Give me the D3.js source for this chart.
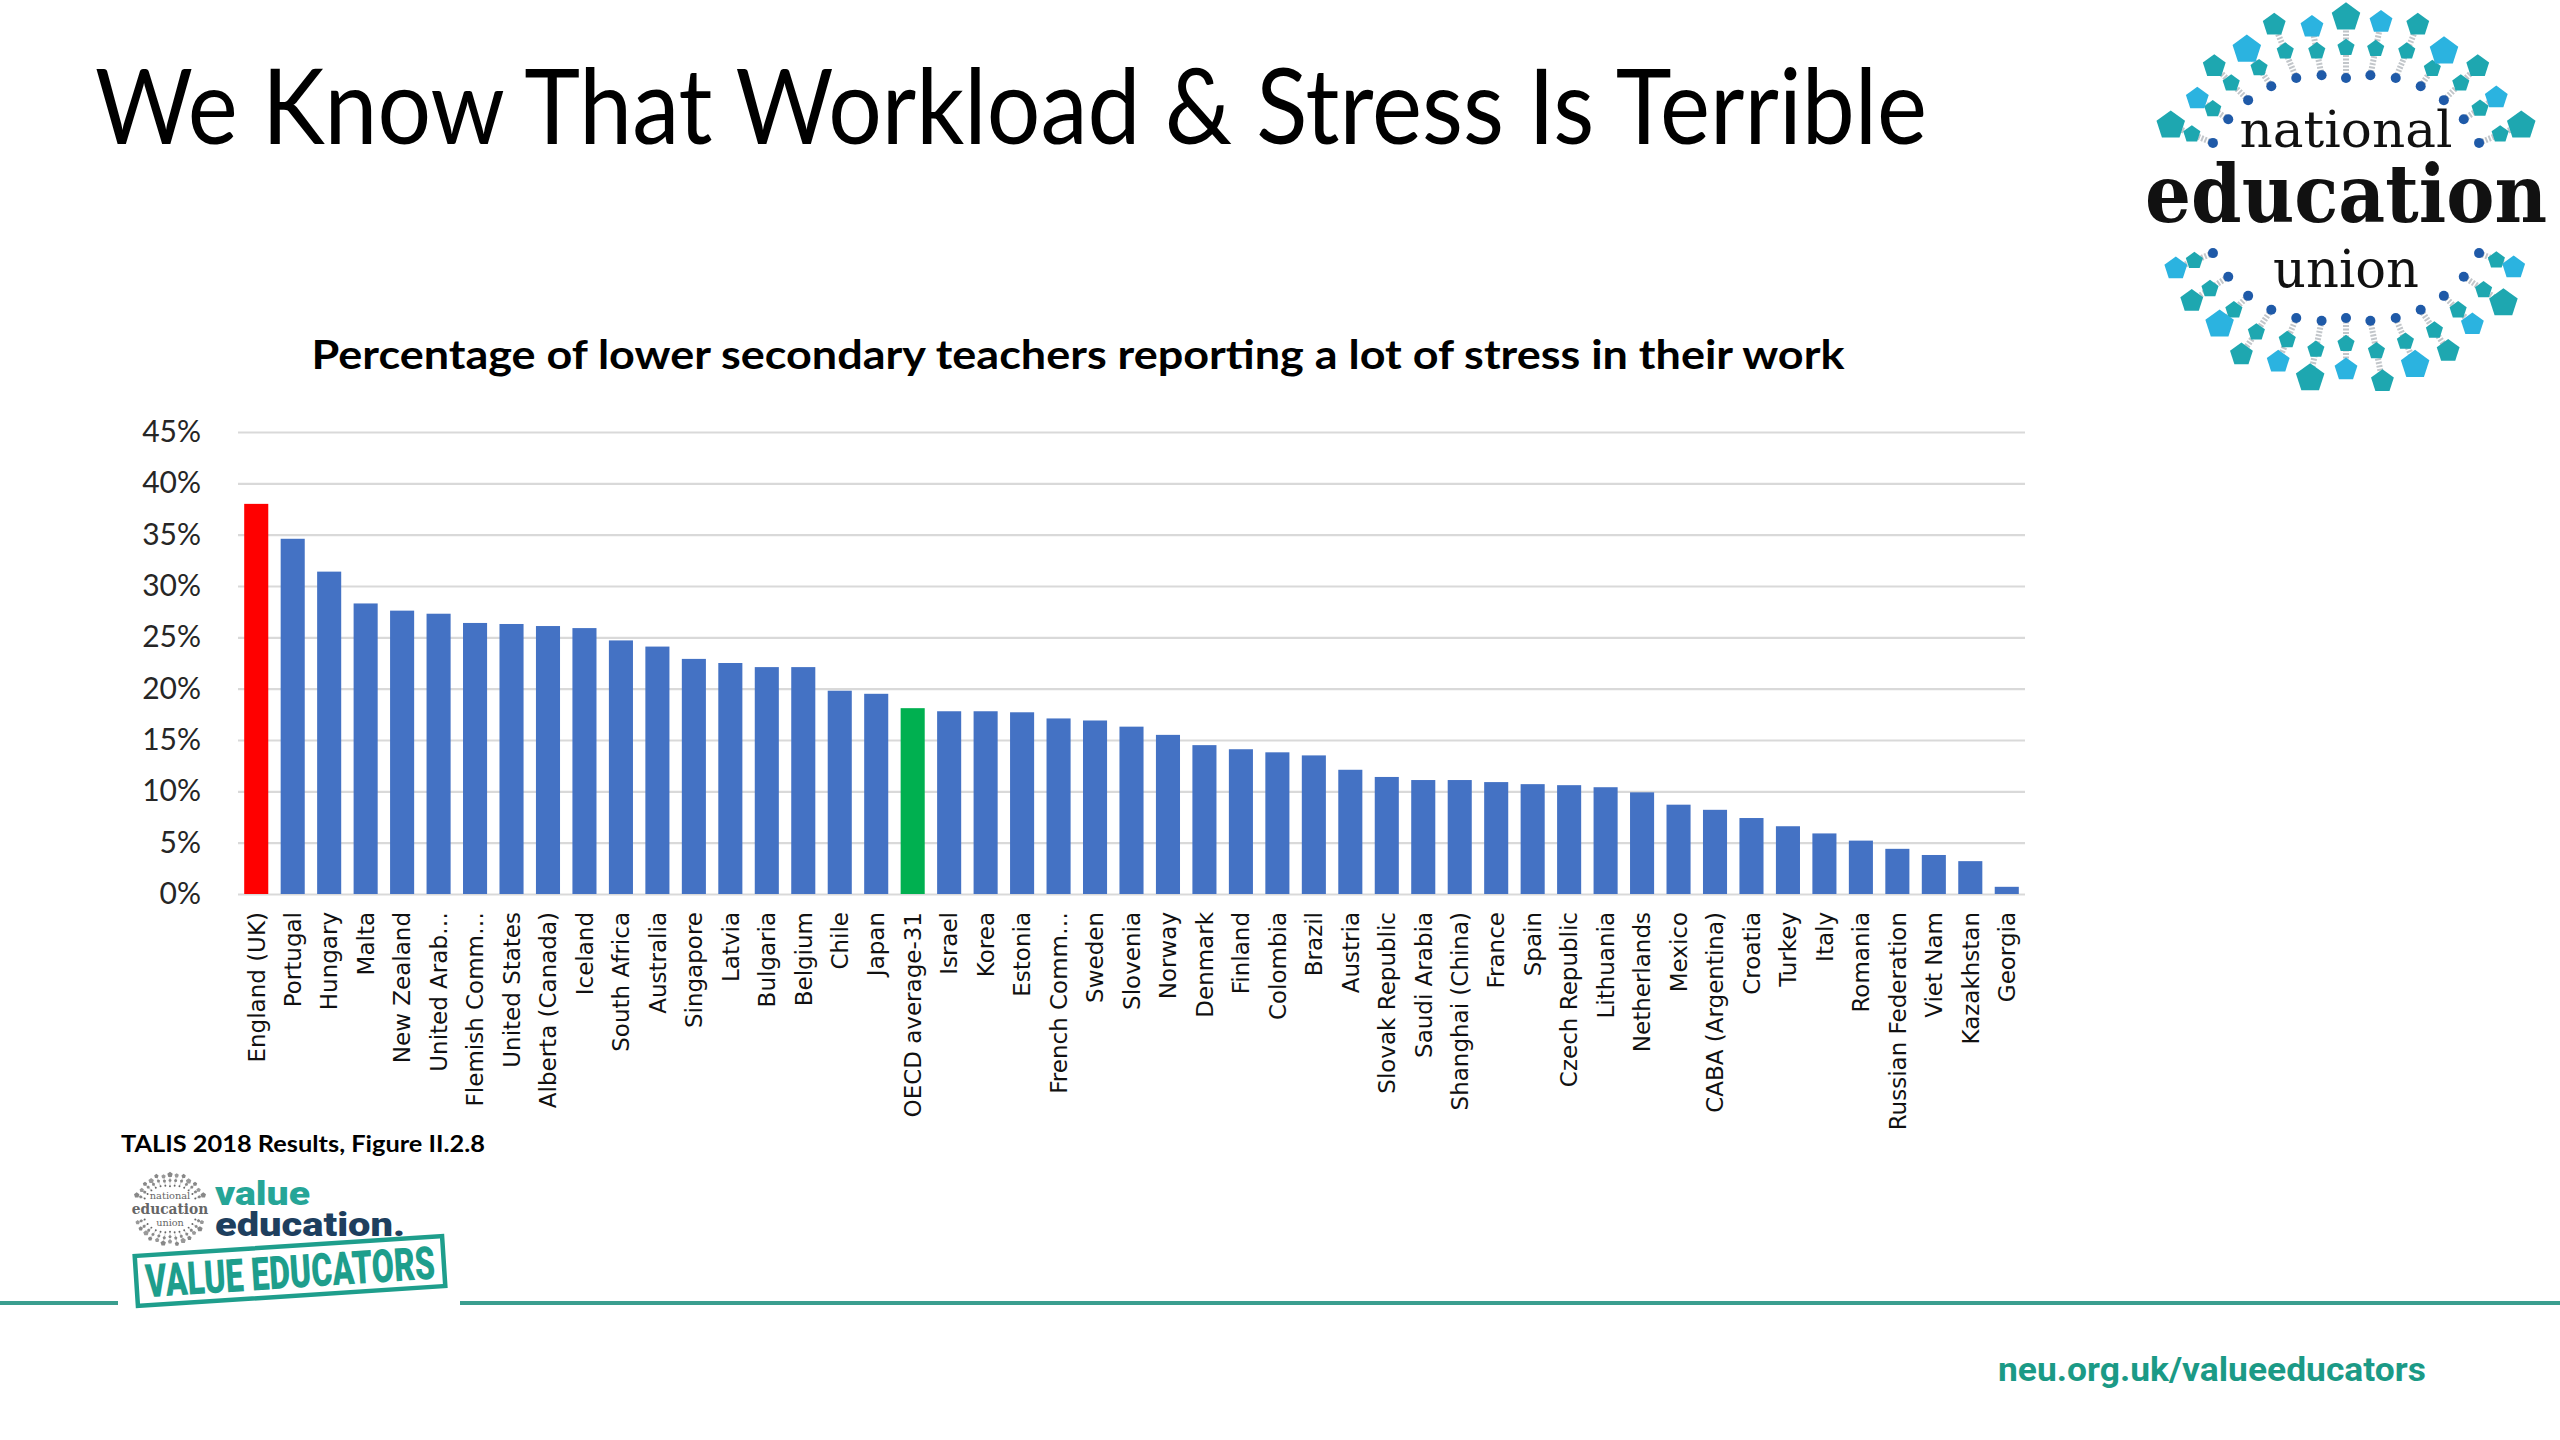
<!DOCTYPE html>
<html>
<head>
<meta charset="utf-8">
<script src="https://cdn.jsdelivr.net/npm/d3@7"></script>
<style>
  body { margin: 0; background: #fff; }
  svg { display: block; }
</style>
</head>
<body>
<svg id="slide" width="2560" height="1440"></svg>
<script>
// TALIS 2018, Figure II.2.8
const countries = [
    "England (UK)", "Portugal", "Hungary", "Malta", "New Zealand", "United Arab Emirates",
    "Flemish Community", "United States", "Alberta (Canada)", "Iceland", "South Africa",
    "Australia", "Singapore", "Latvia", "Bulgaria", "Belgium", "Chile", "Japan",
    "OECD average-31", "Israel", "Korea", "Estonia", "French Community", "Sweden",
    "Slovenia", "Norway", "Denmark", "Finland", "Colombia", "Brazil", "Austria",
    "Slovak Republic", "Saudi Arabia", "Shanghai (China)", "France", "Spain",
    "Czech Republic", "Lithuania", "Netherlands", "Mexico", "CABA (Argentina)",
    "Croatia", "Turkey", "Italy", "Romania", "Russian Federation", "Viet Nam",
    "Kazakhstan", "Georgia"
];
const stressPct = [
    38.0, 34.6, 31.4, 28.3, 27.6, 27.3,
    26.4, 26.3, 26.1, 25.9, 24.7,
    24.1, 22.9, 22.5, 22.1, 22.1, 19.8, 19.5,
    18.1, 17.8, 17.8, 17.7, 17.1, 16.9,
    16.3, 15.5, 14.5, 14.1, 13.8, 13.5, 12.1,
    11.4, 11.1, 11.1, 10.9, 10.7,
    10.6, 10.4, 9.9, 8.7, 8.2,
    7.4, 6.6, 5.9, 5.2, 4.4, 3.8,
    3.2, 0.7
];
// labels that Excel cut short on the slide
const shortLabels = {
    "United Arab Emirates": "United Arab\u2026",
    "Flemish Community": "Flemish Comm\u2026",
    "French Community": "French Comm\u2026"
};
const yTicks = [0, 5, 10, 15, 20, 25, 30, 35, 40, 45];
const barColours = {"England (UK)": "#FF0000", "OECD average-31": "#00B050"};

const svg = d3.select("#slide");
svg.append("rect").attr("width", 2560).attr("height", 1440).attr("fill", "#fff");

// ---- slide title
svg.append("text")
    .attr("x", 95).attr("y", 144)
    .attr("font-family", "Lato, 'Open Sans', sans-serif")
    .attr("font-size", 105)
    .attr("textLength", 1832).attr("lengthAdjust", "spacingAndGlyphs")
    .attr("fill", "#000")
    .text("We Know That Workload & Stress Is Terrible");

// ---- chart
const x = d3.scaleBand().domain(countries).range([238, 2025]).paddingInner(0.34).paddingOuter(0.17);
const y = d3.scaleLinear().domain([0, 45]).range([894, 432]);

svg.append("text")
    .attr("x", 1078).attr("y", 369)
    .attr("text-anchor", "middle")
    .attr("font-family", "Lato, sans-serif").attr("font-weight", 700)
    .attr("font-size", 40)
    .attr("textLength", 1533).attr("lengthAdjust", "spacingAndGlyphs")
    .text("Percentage of lower secondary teachers reporting a lot of stress in their work");

const yAxis = svg.append("g")
    .attr("transform", "translate(238,0)")
    .call(d3.axisLeft(y).tickValues(yTicks).tickFormat(d => d + "%")
        .tickSize(-(2025 - 238)).tickPadding(37));
yAxis.select(".domain").remove();
yAxis.selectAll("line").attr("stroke", "#D9D9D9").attr("stroke-width", 2.2);
yAxis.selectAll("text")
    .attr("font-family", "Lato, sans-serif").attr("font-size", 30).attr("fill", "#262626");

svg.append("g").selectAll("rect")
    .data(countries.map((c, i) => ({country: c, value: stressPct[i]})))
    .join("rect")
    .attr("x", d => x(d.country))
    .attr("width", x.bandwidth())
    .attr("y", d => y(d.value))
    .attr("height", d => y(0) - y(d.value))
    .attr("fill", d => barColours[d.country] || "#4472C4");

const xAxis = svg.append("g")
    .attr("transform", "translate(0," + y(0) + ")")
    .call(d3.axisBottom(x).tickSize(0).tickFormat(c => shortLabels[c] || c));
xAxis.select(".domain").remove();
xAxis.selectAll("text")
    .attr("transform", "rotate(-90)")
    .attr("x", -18).attr("y", 0).attr("dy", "0.36em")
    .attr("text-anchor", "end")
    .attr("font-family", "'DejaVu Sans', Verdana, sans-serif")
    .attr("font-size", 23).attr("fill", "#111");

svg.append("text")
    .attr("x", 121).attr("y", 1152)
    .attr("font-family", "Lato, sans-serif").attr("font-weight", 700)
    .attr("font-size", 23)
    .attr("textLength", 364).attr("lengthAdjust", "spacingAndGlyphs")
    .text("TALIS 2018 Results, Figure II.2.8");

// ---- logos
function pentagon(r, c) {
    return d3.range(5).map(k => {
        const a = -Math.PI / 2 + k * 2 * Math.PI / 5;
        return [c[0] + r * Math.cos(a), c[1] + r * Math.sin(a)].join(",");
    }).join(" ");
}

function drawNeuLogo(cx, cy, s, pal) {
    const g = svg.append("g").attr("transform", `translate(${cx},${cy}) scale(${s})`);
    const lens = [1, 0.82, 0.95, 0.78, 1, 0.88, 0.92, 0.8];
    const angles = d3.range(0, 360, 11.25).filter(a => {
        const d = Math.min(Math.abs(a), Math.abs(a - 360), Math.abs(a - 180));
        return d > 14;
    });
    angles.forEach((a, i) => {
        const t = a * Math.PI / 180;
        const c = Math.abs(Math.cos(t));
        const rIn = 120 + 26 * c;
        const rOut = rIn + (66 - 22 * c) * lens[i % lens.length];
        const pt = r => [r * Math.cos(t), -r * Math.sin(t)];
        const pIn = pt(rIn), pMid = pt(rIn + (rOut - rIn) * 0.5), pOut = pt(rOut);
        g.append("line")
            .attr("x1", pIn[0]).attr("y1", pIn[1]).attr("x2", pOut[0]).attr("y2", pOut[1])
            .attr("stroke", pal.rod).attr("stroke-width", 6).attr("stroke-dasharray", "2 1.5");
        g.append("circle").attr("cx", pIn[0]).attr("cy", pIn[1]).attr("r", 5).attr("fill", pal.dot);
        g.append("polygon").attr("points", pentagon(9, pMid)).attr("fill", pal.mid);
        const big = i % 3 === 0 ? 15 : 12;
        g.append("polygon").attr("points", pentagon(big, pOut)).attr("fill", i % 2 ? pal.outer : pal.mid);
    });
    const serif = "'DejaVu Serif', 'Liberation Serif', serif";
    g.append("text").attr("x", 0).attr("y", -51).attr("text-anchor", "middle")
        .attr("font-family", serif).attr("font-size", 50).attr("fill", pal.text)
        .attr("textLength", 213).attr("lengthAdjust", "spacingAndGlyphs").text("national");
    // narrower natural size, stretched upright so the word keeps its height
    g.append("text").attr("x", 0).attr("y", 24 / 1.14).attr("text-anchor", "middle")
        .attr("transform", "scale(1,1.14)")
        .attr("font-family", serif).attr("font-weight", 700).attr("font-size", 70).attr("fill", pal.text)
        .attr("textLength", 402).attr("lengthAdjust", "spacingAndGlyphs").text("education");
    g.append("text").attr("x", 0).attr("y", 89).attr("text-anchor", "middle")
        .attr("font-family", serif).attr("font-size", 52).attr("fill", pal.text)
        .attr("textLength", 146).attr("lengthAdjust", "spacingAndGlyphs").text("union");
}

drawNeuLogo(2346, 198, 1, {rod: "#c2c6ca", dot: "#1f5aa8", mid: "#1ea7b0", outer: "#2bb3e0", text: "#111"});
drawNeuLogo(170, 1209, 0.19, {rod: "#bbb", dot: "#666", mid: "#888", outer: "#999", text: "#666"});

svg.append("text").attr("x", 215).attr("y", 1205)
    .attr("font-family", "Roboto, sans-serif").attr("font-weight", 900).attr("font-size", 34)
    .attr("textLength", 95).attr("lengthAdjust", "spacingAndGlyphs")
    .attr("fill", "#26a597").text("value");
svg.append("text").attr("x", 215).attr("y", 1236)
    .attr("font-family", "Roboto, sans-serif").attr("font-weight", 900).attr("font-size", 34)
    .attr("textLength", 190).attr("lengthAdjust", "spacingAndGlyphs")
    .attr("fill", "#1e3f5e").text("education.");

const stamp = svg.append("g").attr("transform", "translate(290,1271) rotate(-3.7)");
stamp.append("rect").attr("x", -154).attr("y", -25).attr("width", 308).attr("height", 50)
    .attr("fill", "#fff").attr("stroke", "#1e9e8c").attr("stroke-width", 4.5);
stamp.append("text").attr("x", 0).attr("y", 17).attr("text-anchor", "middle")
    .attr("font-family", "Roboto, sans-serif").attr("font-weight", 900).attr("font-size", 46)
    .attr("textLength", 290).attr("lengthAdjust", "spacingAndGlyphs")
    .attr("fill", "#1e9e8c").text("VALUE EDUCATORS");

// footer rule and url
[[0, 118], [460, 2560]].forEach(seg => {
    svg.append("line").attr("x1", seg[0]).attr("x2", seg[1]).attr("y1", 1303).attr("y2", 1303)
        .attr("stroke", "#3a9e8f").attr("stroke-width", 4);
});
svg.append("text").attr("x", 1998).attr("y", 1381)
    .attr("font-family", "Roboto, sans-serif").attr("font-weight", 700).attr("font-size", 34)
    .attr("textLength", 428).attr("lengthAdjust", "spacingAndGlyphs")
    .attr("fill", "#1b9a86").text("neu.org.uk/valueeducators");
</script>
</body>
</html>
